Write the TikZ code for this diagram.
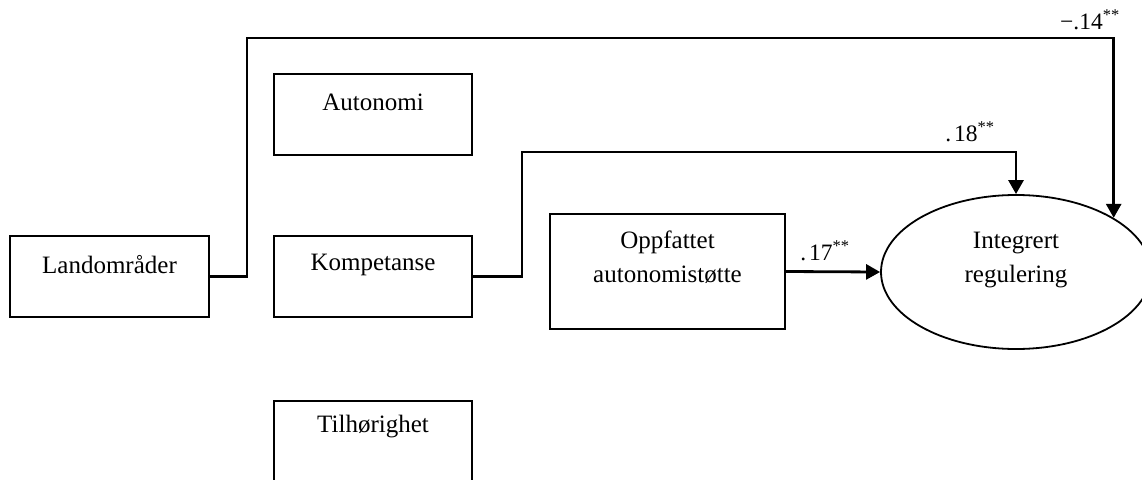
\documentclass[tikz,border=0pt]{standalone}
\usepackage{fontspec}
\setmainfont{Liberation Serif}
\usetikzlibrary{arrows.meta,shapes.geometric}
\begin{document}
\begin{tikzpicture}[x=1pt,y=-1pt,
 box/.style={draw,line width=1.6pt,rectangle,inner sep=0pt},
 lbl/.style={font=\fontsize{25}{34}\selectfont,align=center,inner sep=0pt},
 coef/.style={font=\fontsize{23.5}{26}\selectfont,inner sep=0pt},
 conn/.style={line width=2.8pt,-{Triangle[length=14pt,width=15pt]}}]
\useasboundingbox (0,0) rectangle (1142,479);
\clip (0,0) rectangle (1142,479);
% boxes
\node[box,minimum width=199pt,minimum height=81pt] (land) at (109.5,276.5) {};
\node[lbl] (landt) at (109.5,265) {Landområder};
\node[box,minimum width=198pt,minimum height=81pt] (auto) at (373,114.5) {};
\node[lbl] (autot) at (373,102) {Autonomi};
\node[box,minimum width=198pt,minimum height=81pt] (komp) at (373,276.5) {};
\node[lbl] (kompt) at (373,265) {Kompetanse};
\node[box,minimum width=198pt,minimum height=81pt] (tilh) at (373,441.5) {};
\node[lbl] (tilht) at (373,427) {Tilhørighet};
\node[box,minimum width=235pt,minimum height=115pt] (opp) at (667.5,271.5) {};
\node[lbl] (oppt) at (667.5,257) {Oppfattet\\autonomistøtte};
\node[draw,ellipse,line width=1.8pt,inner sep=0pt,minimum width=270pt,minimum height=154pt] (ell) at (1016,272) {};
\node[lbl] (ellt) at (1016,260) {Integrert\\regulering};
% connector corners
\coordinate (lc) at (247,38);
\coordinate (kc) at (522,152);
\coordinate (ltip) at (ell.29.4);
% connectors
\draw[conn] (land.east) -| (lc) -| (ltip);
\draw[conn] (komp.east) -| (kc) -| (ell.north);
\draw[conn] (opp.east) -- (ell.west);
% coefficients
\node[coef] (c14) at (1090,20) {−.14\textsuperscript{**}};
\node[coef] (c18) at (970,132) {.\hspace{3pt}18\textsuperscript{**}};
\node[coef] (c17) at (825,251) {.\hspace{3pt}17\textsuperscript{**}};
\end{tikzpicture}
\end{document}
